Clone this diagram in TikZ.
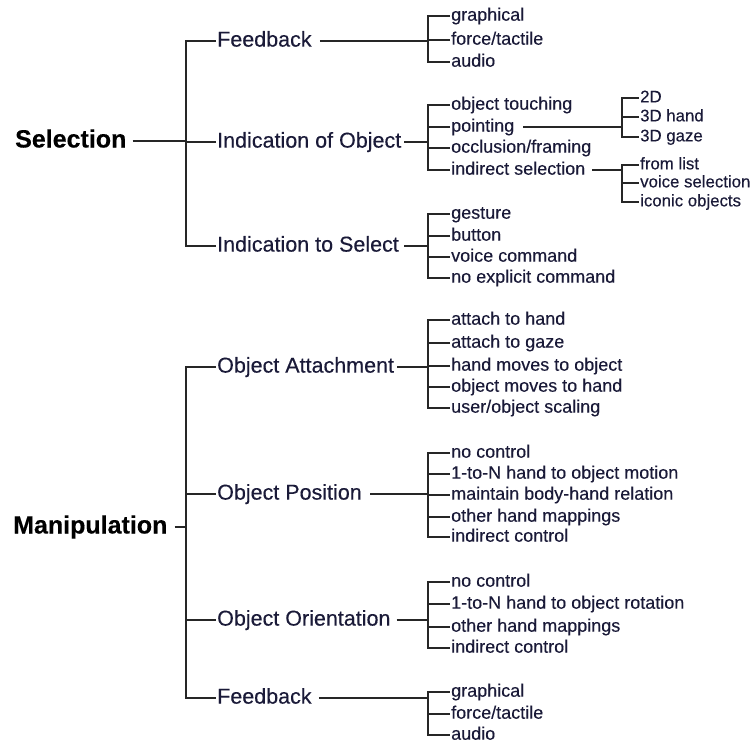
\documentclass[tikz,border=0pt]{standalone}
\usepackage{fontspec}
\setmainfont[FakeBold=0.3]{Liberation Sans}
\definecolor{txt}{RGB}{26,26,56}
\definecolor{ln}{RGB}{38,38,38}

% \fork{parent}{gap after parent}{bar coordinate}{first child}{last child}{middle children}
\newcommand\fork[6]{%
  \draw[conn] ([xshift=#2]#1.east) -- (#1.east -| #3);
  \draw[conn] (#4.west) -- (#4.west -| #3) -- (#5.west -| #3) -- (#5.west);
  \foreach \c in {#6} {\draw[conn] (\c.west) -- (\c.west -| #3);}
}

\begin{document}
\begin{tikzpicture}[x=1pt,y=-1pt,
  every node/.style={anchor=west, inner xsep=1pt, inner ysep=0pt, text=txt},
  top/.style={font=\bfseries\fontsize{25}{30}\selectfont, text=black,
              text height=18pt, text depth=5pt},
  mid/.style={font=\fontsize{21.5}{26}\selectfont,
              text height=15.5pt, text depth=4.3pt},
  leaf/.style={font=\fontsize{18}{22}\selectfont,
               text height=13pt, text depth=3.6pt},
  small/.style={font=\fontsize{16.8}{20}\selectfont,
                text height=12.1pt, text depth=3.4pt},
  conn/.style={draw=ln, line width=1.4pt, line join=miter}]
\useasboundingbox (0,0) rectangle (752,742);

% bar positions
\coordinate (b0) at (186,0);
\coordinate (b1) at (428,0);
\coordinate (b2) at (622,0);

% ---------------- Selection ----------------
\node[top] (sel) at (14,141) {Selection};
\node[mid] (sfb) at (216,41)  {Feedback};
\node[mid] (sio) at (216,142) {Indication of Object};
\node[mid] (sis) at (216,246) {Indication to Select};

\node[leaf] (sfb1) at (450,16) {graphical};
\node[leaf] (sfb2) at (450,40) {force/tactile};
\node[leaf] (sfb3) at (450,62) {audio};

\node[leaf] (sio1) at (450,105) {object touching};
\node[leaf] (sio2) at (450,127) {pointing};
\node[leaf] (sio3) at (450,148) {occlusion/framing};
\node[leaf] (sio4) at (450,170) {indirect selection};

\node[small] (pt1) at (639,98)  {2D};
\node[small] (pt2) at (639,117) {3D hand};
\node[small] (pt3) at (639,137) {3D gaze};

\node[small] (is1) at (639,165) {from list};
\node[small] (is2) at (639,183) {voice selection};
\node[small] (is3) at (639,202) {iconic objects};

\node[leaf] (sis1) at (450,214) {gesture};
\node[leaf] (sis2) at (450,236) {button};
\node[leaf] (sis3) at (450,257) {voice command};
\node[leaf] (sis4) at (450,278) {no explicit command};

\fork{sel}{5pt}{b0}{sfb}{sis}{sio}
\fork{sfb}{7pt}{b1}{sfb1}{sfb3}{sfb2}
\fork{sio}{2pt}{b1}{sio1}{sio4}{sio2,sio3}
\fork{sio2}{8pt}{b2}{pt1}{pt3}{pt2}
\fork{sio4}{6pt}{b2}{is1}{is3}{is2}
\fork{sis}{4pt}{b1}{sis1}{sis4}{sis2,sis3}

% ---------------- Manipulation ----------------
\node[top] (man) at (12,527) {Manipulation};
\node[mid] (moa) at (216,367) {Object Attachment};
\node[mid] (mop) at (216,494) {Object Position};
\node[mid] (moo) at (216,620) {Object Orientation};
\node[mid] (mfb) at (216,698) {Feedback};

\node[leaf] (oa1) at (450,320) {attach to hand};
\node[leaf] (oa2) at (450,343) {attach to gaze};
\node[leaf] (oa3) at (450,366) {hand moves to object};
\node[leaf] (oa4) at (450,387) {object moves to hand};
\node[leaf] (oa5) at (450,408) {user/object scaling};

\node[leaf] (op1) at (450,453) {no control};
\node[leaf] (op2) at (450,474) {1-to-N hand to object motion};
\node[leaf] (op3) at (450,495) {maintain body-hand relation};
\node[leaf] (op4) at (450,517) {other hand mappings};
\node[leaf] (op5) at (450,537) {indirect control};

\node[leaf] (oo1) at (450,582) {no control};
\node[leaf] (oo2) at (450,604) {1-to-N hand to object rotation};
\node[leaf] (oo3) at (450,627) {other hand mappings};
\node[leaf] (oo4) at (450,648) {indirect control};

\node[leaf] (fb1) at (450,692) {graphical};
\node[leaf] (fb2) at (450,714) {force/tactile};
\node[leaf] (fb3) at (450,735) {audio};

\fork{man}{6pt}{b0}{moa}{mfb}{mop,moo}
\fork{moa}{2pt}{b1}{oa1}{oa5}{oa2,oa3,oa4}
\fork{mop}{7pt}{b1}{op1}{op5}{op2,op3,op4}
\fork{moo}{5pt}{b1}{oo1}{oo4}{oo2,oo3}
\fork{mfb}{6pt}{b1}{fb1}{fb3}{fb2}
\end{tikzpicture}
\end{document}
